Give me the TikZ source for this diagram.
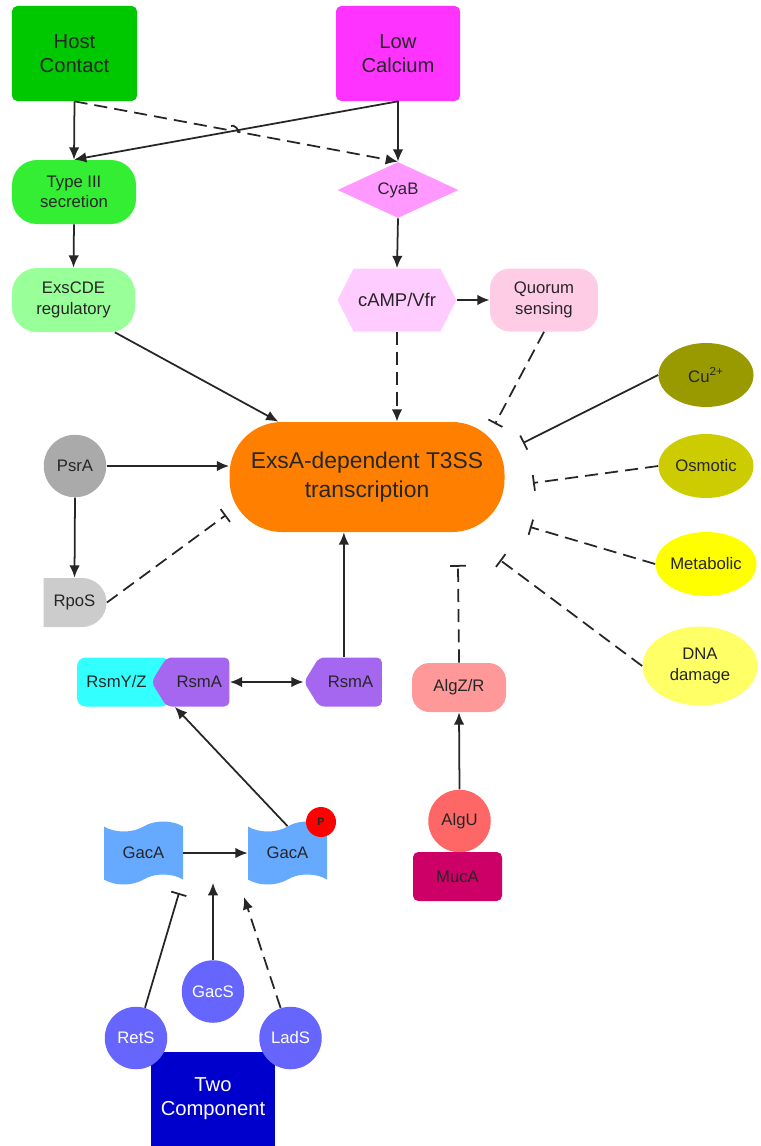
\documentclass[tikz,border=0pt]{standalone}
\usepackage{fontspec}
\setmainfont{Liberation Sans}
\usetikzlibrary{arrows.meta,shapes.geometric,shapes.symbols,shapes.misc,calc}

\definecolor{hostgreen}{HTML}{00C800}
\definecolor{lowmag}{HTML}{FF33FF}
\definecolor{tgreen}{HTML}{33EE33}
\definecolor{cyabpink}{HTML}{FF99FF}
\definecolor{exsgreen}{HTML}{99FF99}
\definecolor{camppink}{HTML}{FFCCFF}
\definecolor{qspink}{HTML}{FFCCE6}
\definecolor{exsaorange}{HTML}{FF8000}
\definecolor{psragray}{HTML}{AAAAAA}
\definecolor{rposgray}{HTML}{CCCCCC}
\definecolor{cuolive}{HTML}{999900}
\definecolor{osmyellow}{HTML}{CCCC00}
\definecolor{metyellow}{HTML}{FFFF00}
\definecolor{dnayellow}{HTML}{FFFF66}
\definecolor{rsmcyan}{HTML}{33FFFF}
\definecolor{rsmpurple}{HTML}{A566F0}
\definecolor{algzpink}{HTML}{FF9999}
\definecolor{algured}{HTML}{FF6666}
\definecolor{mucared}{HTML}{CC0066}
\definecolor{gacblue}{HTML}{66AAFF}
\definecolor{sensblue}{HTML}{6666FF}
\definecolor{twoblue}{HTML}{0000CC}

\tikzset{
  lbl/.style={font=\fontsize{9.5}{11.5}\selectfont, text=black!85, align=center, inner sep=0pt},
  big/.style={font=\fontsize{11.5}{13.6}\selectfont, text=black!85, align=center, inner sep=0pt},
  cell/.style={circle, minimum size=1.25cm},
  env/.style={ellipse, minimum width=1.9cm, minimum height=1.28cm},
  gac/.style={tape, tape bend top=in and out, tape bend bottom=in and out, tape bend height=0.2cm, fill=gacblue, minimum width=1.58cm, minimum height=1.26cm},
  act/.style={draw=black!85, line width=1pt, -{Latex[length=7pt,width=6pt]}},
  dbl/.style={draw=black!85, line width=1pt, {Latex[length=7pt,width=6pt]}-{Latex[length=7pt,width=6pt]}},
  inh/.style={draw=black!85, line width=1pt, -{Bar[width=9pt]}},
  dsh/.style={dash pattern=on 7.5pt off 4pt}
}

\begin{document}
\begin{tikzpicture}[x=0.2mm, y=-0.2mm]
  \useasboundingbox (0,0) rectangle (760,1146);

  \node[big, fill=hostgreen, rounded corners=3pt, minimum width=2.5cm, minimum height=1.9cm] (host) at (74.5,53.5) {Host\\Contact};
  \node[big, fill=lowmag, rounded corners=3pt, minimum width=2.48cm, minimum height=1.9cm] (lowca) at (398,53.5) {Low\\Calcium};
  \node[lbl, fill=tgreen, rounded corners=0.5cm, minimum width=2.48cm, minimum height=1.28cm] (t3ss) at (74,192) {Type III\\secretion};
  \node[lbl, diamond, aspect=2.2, fill=cyabpink, minimum width=2.42cm, minimum height=1.12cm] (cyab) at (398,190) {CyaB};
  \node[lbl, fill=exsgreen, rounded corners=0.5cm, minimum width=2.46cm, minimum height=1.28cm] (exscde) at (73.5,300) {ExsCDE\\regulatory};
  \node[lbl, signal, signal to=west and east, signal pointer angle=126, fill=camppink, minimum width=2.38cm, minimum height=1.26cm, font=\fontsize{10.5}{12}\selectfont] (camp) at (397,300) {cAMP/Vfr};
  \node[lbl, fill=qspink, rounded corners=0.4cm, minimum width=2.16cm, minimum height=1.26cm] (qs) at (544,300) {Quorum\\sensing};
  \node[fill=exsaorange, rounded corners=1.05cm, minimum width=5.5cm, minimum height=2.2cm, font=\fontsize{13}{16.5}\selectfont, text=black!85, align=center] (exsa) at (367,477) {ExsA-dependent T3SS\\transcription};

  \node[lbl, cell, fill=psragray] (psra) at (75,466) {PsrA};
  \node[lbl, rounded rectangle, rounded rectangle west arc=none, fill=rposgray, minimum width=1.26cm, minimum height=0.98cm] (rpos) at (74.5,602.5) {RpoS};

  \node[lbl, env, fill=cuolive] (cu) at (706,375) {Cu\textsuperscript{2+}};
  \node[lbl, env, fill=osmyellow] (osm) at (706,466) {Osmotic};
  \node[lbl, env, fill=metyellow] (met) at (706,564) {Metabolic};
  \node[lbl, env, fill=dnayellow, minimum width=2.3cm, minimum height=1.58cm] (dna) at (700,666) {DNA\\damage};

  \node[lbl, fill=rsmcyan, rounded corners=5pt, minimum width=1.86cm, minimum height=0.98cm] (rsmyz) at (123.5,682) {RsmY/Z\hspace*{0.28cm}};
  \node[lbl, signal, signal to=west, signal pointer angle=117, fill=rsmpurple, rounded corners=3pt, minimum width=1.56cm, minimum height=0.98cm] (rsma) at (198,682) {\hspace*{0.05cm}RsmA};
  \node[lbl, signal, signal to=west, signal pointer angle=117, fill=rsmpurple, rounded corners=3pt, minimum width=1.56cm, minimum height=0.98cm] (rsmafree) at (350.5,682) {RsmA};

  \node[lbl, fill=algzpink, rounded corners=0.35cm, minimum width=1.88cm, minimum height=0.98cm] (algzr) at (459,687.5) {AlgZ/R};
  \node[lbl, fill=mucared, rounded corners=3pt, minimum width=1.78cm, minimum height=0.98cm] (muca) at (457.5,876.5) {MucA};
  \node[lbl, cell, fill=algured] (algu) at (459.5,821) {AlgU};

  \node[lbl, gac] (gaca) at (143.5,853) {GacA};
  \node[lbl, gac] (gacap) at (287.5,853) {GacA};
  \node[circle, fill=red, minimum size=0.6cm, inner sep=0pt, font=\fontsize{6}{6}\bfseries\selectfont, text=black!85] (phos) at (321,822) {P};

  \node[big, fill=twoblue, text=white, minimum width=2.48cm, minimum height=1.9cm] (twocomp) at (213,1099) {Two\\Component};
  \node[lbl, cell, fill=sensblue, text=white] (gacs) at (213,991.5) {GacS};
  \node[lbl, cell, fill=sensblue, text=white] (rets) at (136,1038) {RetS};
  \node[lbl, cell, fill=sensblue, text=white] (lads) at (290.5,1038) {LadS};

  \coordinate (qsend) at (495,424);
  \coordinate (cuend) at (523,443);
  \coordinate (osmend) at (533,483);
  \coordinate (metend) at (530,527);
  \coordinate (dnaend) at (500,560);
  \coordinate (algend) at (458,565);
  \coordinate (rposend) at (226,515);
  \coordinate (retsend) at (179,893);
  \coordinate (gacsend) at (213,883);
  \coordinate (ladsend) at (244,897);

  \draw[act] (host.south) -- (t3ss.north);
  \draw[act, dsh] (host.south) -- ($(host.south)!0.475!(cyab.north)$) .. controls +(0,-7) and +(0,-7) .. ($(host.south)!0.505!(cyab.north)$) -- (cyab.north);
  \draw[act] (lowca.south) -- (cyab.north);
  \draw[act] (lowca.south) -- (t3ss.north);
  \draw[act] (t3ss.south) -- (exscde.north);
  \draw[act] (cyab.south) -- (camp.north);
  \draw[act] (camp.east) -- (qs.west);
  \draw[act] (exscde.-38) -- (exsa.148);
  \draw[act, dsh] (camp.south) -- (camp.south |- exsa.north);
  \draw[inh, dsh] (qs.south) -- (qsend);
  \draw[inh] (cu.west) -- (cuend);
  \draw[inh, dsh] (osm.west) -- (osmend);
  \draw[inh, dsh] (met.west) -- (metend);
  \draw[inh, dsh] (dna.west) -- (dnaend);
  \draw[inh, dsh] (algzr.north) -- (algend);
  \draw[act] (psra.east) -- (psra.east -| exsa.west);
  \draw[act] (psra.south) -- (rpos.north);
  \draw[inh, dsh] (rpos.east) -- (rposend);
  \draw[act] (rsmafree.105) -- (rsmafree.105 |- exsa.south);
  \draw[dbl] (rsma.east) -- (rsmafree.west);
  \draw[act] (gacap.north) -- (rsma.-133);
  \draw[act] (gaca.east) -- (gacap.west);
  \draw[inh] (rets) -- (retsend);
  \draw[act] (gacs) -- (gacsend);
  \draw[act, dsh] (lads) -- (ladsend);
  \draw[act] (algu.north) -- (algzr.south);
\end{tikzpicture}
\end{document}
